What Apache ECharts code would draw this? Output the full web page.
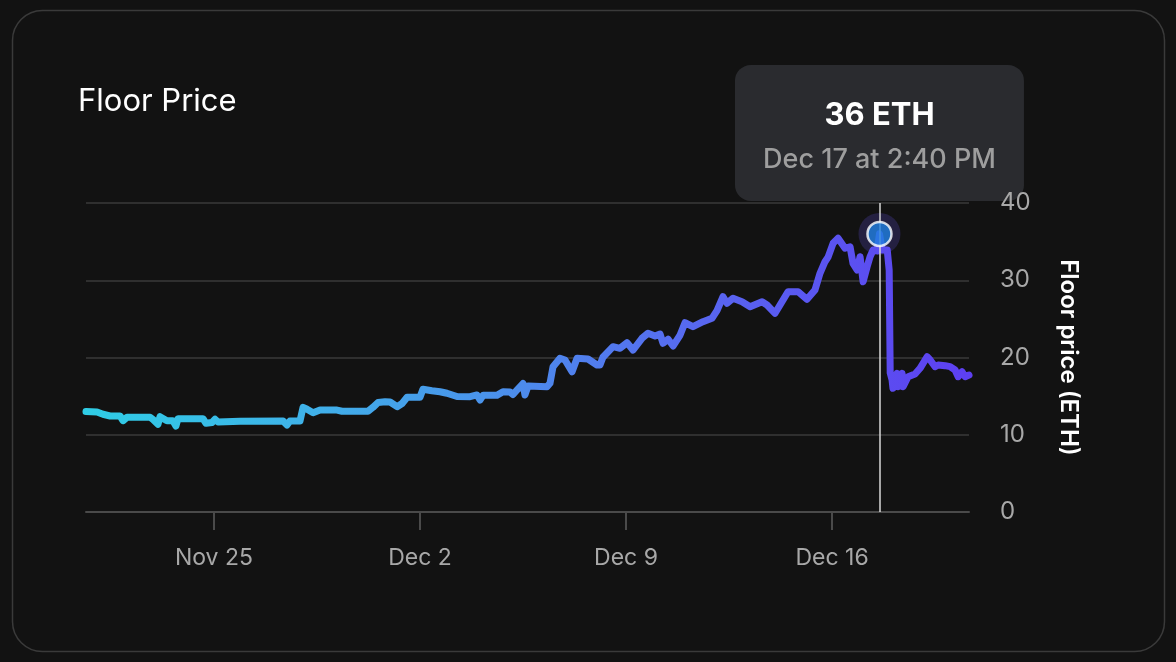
<!DOCTYPE html>
<html><head><meta charset="utf-8">
<script src="https://cdn.jsdelivr.net/npm/echarts@6/dist/echarts.min.js"></script>
<style>html,body{margin:0;padding:0;background:#121212;}#c{width:1176px;height:662px;}</style>
</head><body><div id="c"></div>
<script>
const times = [
'2021-11-20 15:40','2021-11-21 00:40','2021-11-21 05:30','2021-11-21 11:20','2021-11-21 19:25','2021-11-21 21:50',
'2021-11-22 01:10','2021-11-22 19:55','2021-11-22 22:20','2021-11-23 02:20','2021-11-23 04:00','2021-11-23 09:40',
'2021-11-23 14:35','2021-11-23 17:00','2021-11-23 18:40','2021-11-24 15:05','2021-11-24 17:30','2021-11-24 22:25',
'2021-11-25 00:55','2021-11-25 03:20','2021-11-25 21:15','2021-11-27 08:20','2021-11-27 11:35','2021-11-27 14:00',
'2021-11-27 22:10','2021-11-28 00:40','2021-11-28 03:55','2021-11-28 08:50','2021-11-28 14:30','2021-11-29 04:20',
'2021-11-29 08:25','2021-11-30 05:35','2021-11-30 09:40','2021-11-30 13:50','2021-11-30 19:30','2021-11-30 23:35',
'2021-12-01 05:20','2021-12-01 09:25','2021-12-01 13:30','2021-12-02 00:00','2021-12-02 02:25','2021-12-02 09:45',
'2021-12-02 16:20','2021-12-02 22:00','2021-12-03 06:10','2021-12-03 16:50','2021-12-03 22:30','2021-12-04 01:00',
'2021-12-04 03:25','2021-12-04 14:50','2021-12-04 19:40','2021-12-05 01:25','2021-12-05 03:50','2021-12-05 07:05',
'2021-12-05 12:00','2021-12-05 13:35','2021-12-05 16:05','2021-12-06 07:35','2021-12-06 10:00','2021-12-06 12:30',
'2021-12-06 18:10','2021-12-06 22:15','2021-12-07 04:00','2021-12-07 08:05','2021-12-07 17:00','2021-12-08 00:20',
'2021-12-08 02:45','2021-12-08 05:10','2021-12-08 13:25','2021-12-08 19:05','2021-12-09 00:50','2021-12-09 05:40',
'2021-12-09 13:00','2021-12-09 17:55','2021-12-09 23:40','2021-12-10 03:45','2021-12-10 06:10','2021-12-10 10:20',
'2021-12-10 14:25','2021-12-10 20:05','2021-12-11 00:05','2021-12-11 06:35','2021-12-11 14:45','2021-12-11 22:05',
'2021-12-12 02:10','2021-12-12 07:05','2021-12-12 10:20','2021-12-12 15:15','2021-12-12 22:35','2021-12-13 05:10',
'2021-12-13 14:55','2021-12-13 19:00','2021-12-14 01:30','2021-12-14 05:35','2021-12-14 12:05','2021-12-14 20:15',
'2021-12-15 03:35','2021-12-15 10:05','2021-12-15 14:10','2021-12-15 18:15','2021-12-15 20:45','2021-12-16 00:50',
'2021-12-16 04:55','2021-12-16 06:30','2021-12-16 10:35','2021-12-16 14:40','2021-12-16 17:05','2021-12-16 20:25',
'2021-12-16 22:50','2021-12-17 01:20','2021-12-17 04:35','2021-12-17 07:00','2021-12-17 09:30','2021-12-17 12:45',
'2021-12-17 14:40','2021-12-17 16:55','2021-12-17 21:00','2021-12-17 22:35','2021-12-17 23:25','2021-12-18 00:55',
'2021-12-18 01:40','2021-12-18 05:00','2021-12-18 05:50','2021-12-18 09:05','2021-12-18 09:55','2021-12-18 14:00',
'2021-12-18 19:40','2021-12-18 23:45','2021-12-19 05:30','2021-12-19 08:00','2021-12-19 12:00','2021-12-19 14:30',
'2021-12-19 20:10','2021-12-20 00:15','2021-12-20 04:20','2021-12-20 06:50','2021-12-20 10:00','2021-12-20 12:30',
'2021-12-20 15:40'
];
const values = [
13.0,12.94,12.65,12.43,12.43,11.82,
12.26,12.26,11.97,11.35,12.34,11.82,
11.82,11.13,12.08,12.08,11.48,11.59,
12.0,11.65,11.74,11.78,11.26,11.78,
11.78,13.55,13.3,12.85,13.2,13.2,
13.04,13.04,13.55,14.17,14.28,14.24,
13.63,14.05,14.85,14.85,15.88,15.7,
15.57,15.37,14.95,14.93,15.15,14.5,
15.11,15.11,15.57,15.53,15.21,15.79,
16.63,15.15,16.31,16.22,16.66,18.81,
19.9,19.68,18.16,19.9,19.81,19.03,
19.03,20.03,21.4,21.19,21.92,20.97,
22.49,23.13,22.78,23.04,21.84,22.36,
21.49,22.91,24.5,23.99,24.63,25.07,
26.06,27.87,27.02,27.66,27.22,26.58,
27.22,26.8,25.72,26.8,28.52,28.52,
27.53,28.74,30.9,32.4,33.0,34.78,
35.43,35.3,34.14,34.34,32.19,31.33,
33.05,29.81,31.75,33.05,33.92,33.8,
36.0,33.9,33.9,31.3,18.0,17.09,
16.01,17.96,16.22,17.96,16.22,17.51,
17.86,18.6,20.1,19.68,18.81,19.03,
18.94,18.81,18.38,17.51,18.16,17.51,
17.73
];
const xRange = ['2021-11-20 15:40','2021-12-20 15:40'];
const xTickDates = ['2021-11-25 00:00','2021-12-02 00:00','2021-12-09 00:00','2021-12-16 00:00'];
const xTickLabels = ['Nov 25','Dec 2','Dec 9','Dec 16'];
const yTicks = [0,10,20,30,40];
const highlight = {time:'2021-12-17 14:40', value:36, label:'36 ETH', sub:'Dec 17 at 2:40 PM'};
const titleText = 'Floor Price';
const yName = 'Floor price (ETH)';

function parseT(s){
  const [d,t] = s.split(' ');
  const [Y,M,D] = d.split('-').map(Number);
  const [h,m] = (t||'00:00').split(':').map(Number);
  return new Date(Y,M-1,D,h,m).getTime();
}
const tickTs = xTickDates.map(parseT);
const data = times.map((t,i)=>[parseT(t), values[i]]);
const hiT = parseT(highlight.time);
const FONT = 'Inter, "Noto Sans", sans-serif';

const chart = echarts.init(document.getElementById('c'), null, {renderer:'canvas'});
chart.setOption({
  backgroundColor:'#121212',
  animation:false,
  title:{text:titleText,left:78,top:85,padding:0,textStyle:{color:'#ffffff',fontSize:31,fontWeight:400,fontFamily:FONT,lineHeight:34}},
  grid:{left:86,right:207,top:203,bottom:150,containLabel:false},
  xAxis:{
    type:'value', min:parseT(xRange[0]), max:parseT(xRange[1]), scale:true,
    axisLine:{show:true,lineStyle:{color:'#4a4a4a',width:2}},
    axisTick:{show:true,customValues:tickTs,length:18,lineStyle:{color:'#4a4a4a',width:2}},
    axisLabel:{customValues:tickTs,margin:35,color:'#a8a8a8',fontSize:23,fontFamily:FONT,
      formatter:(v)=>{const i=tickTs.indexOf(v);return i>=0?xTickLabels[i]:'';}},
    splitLine:{show:false}
  },
  yAxis:{
    type:'value', position:'right', min:yTicks[0], max:yTicks[yTicks.length-1], interval:10,
    axisLine:{show:false}, axisTick:{show:false},
    axisLabel:{margin:31,color:'#a8a8a8',fontSize:24,fontFamily:FONT,padding:[6,0,0,0]},
    splitLine:{show:true,lineStyle:{color:'#3a3a3a',width:1.5}},
    name:yName, nameLocation:'middle', nameRotate:-90, nameGap:87,
    nameTextStyle:{color:'#ffffff',fontSize:24,fontWeight:600,fontFamily:FONT}
  },
  series:[
    {type:'scatter',data:[[hiT,highlight.value]],symbolSize:42,itemStyle:{color:'#29244e'},z:1,silent:true},
    {type:'line',data:data,showSymbol:false,symbol:'none',z:3,
      lineStyle:{width:7,cap:'round',join:'round',
        color:new echarts.graphic.LinearGradient(0,0,1,0,[
          {offset:0,color:'#2fcde5'},{offset:0.25,color:'#3fb2e9'},{offset:0.45,color:'#4a93eb'},
          {offset:0.7,color:'#5866f0'},{offset:1,color:'#5d3ff1'}])},
      markLine:{silent:true,symbol:['none','none'],label:{show:false},
        lineStyle:{color:'#d8d8d8',width:1.5,type:'solid'},data:[{xAxis:hiT}]}
    },
    {type:'scatter',data:[[hiT,highlight.value]],symbolSize:24,z:5,silent:true,
      itemStyle:{color:'#1f80e0',borderColor:'#ffffff',borderWidth:2.5}}
  ]
});
const p = chart.convertToPixel({gridIndex:0},[hiT,highlight.value]);
const bw=289,bh=136;
const bx=p[0]-bw/2, by=p[1]-169;
chart.setOption({graphic:[
  {type:'rect',z:-100,silent:true,shape:{x:12.5,y:10.5,width:1152,height:641,r:30},
    style:{fill:'#121212',stroke:'#3a3a3a',lineWidth:1.5}},
  {type:'group',x:bx,y:by,z:100,children:[
    {type:'rect',shape:{x:0,y:0,width:bw,height:bh,r:16},style:{fill:'#2a2b2f'}},
    {type:'text',style:{x:bw/2,y:51,text:highlight.label,fill:'#ffffff',font:'bold 31px '+FONT,textAlign:'center',textVerticalAlign:'middle'}},
    {type:'text',style:{x:bw/2,y:95,text:highlight.sub,fill:'#9e9e9e',font:'500 27px '+FONT,textAlign:'center',textVerticalAlign:'middle'}}
  ]}
]});
</script></body></html>
